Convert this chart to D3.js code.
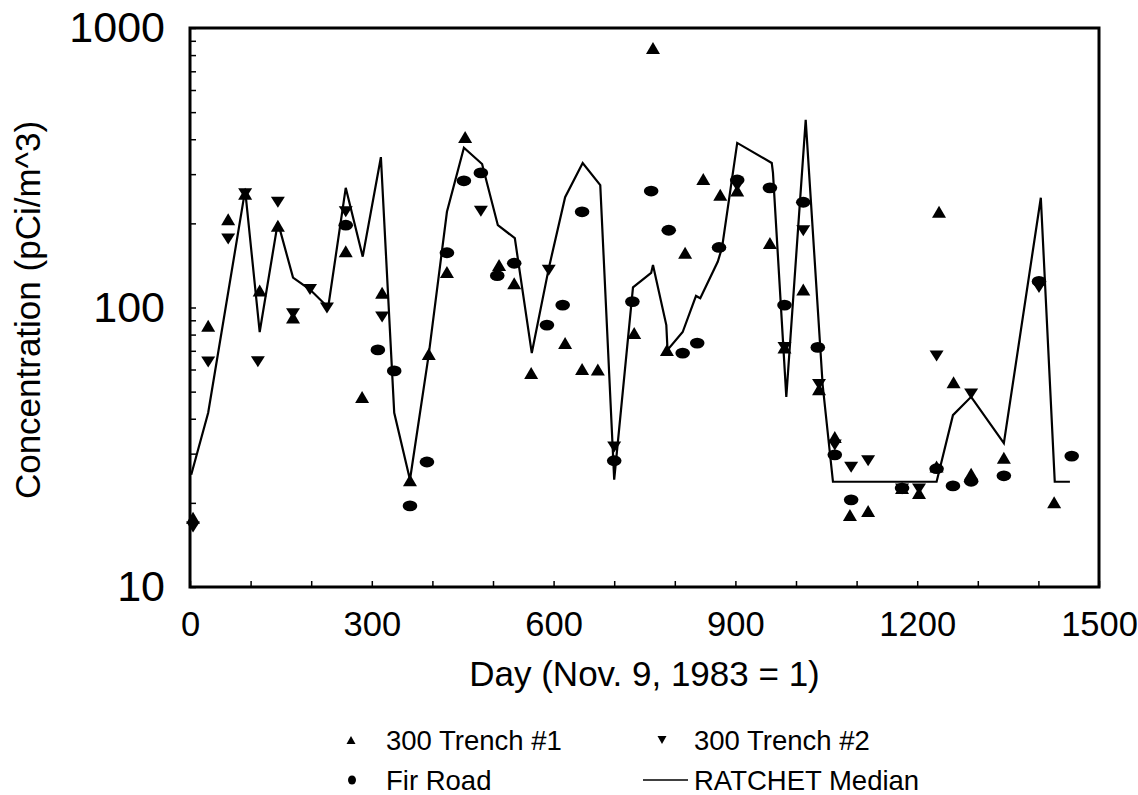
<!DOCTYPE html>
<html>
<head>
<meta charset="utf-8">
<script src="https://cdn.jsdelivr.net/npm/d3@7"></script>
<style>
  html, body { margin: 0; padding: 0; background: #fff; }
  svg { display: block; font-family: "Liberation Sans", Arial, sans-serif; }
</style>
</head>
<body>
<svg id="chart" width="1138" height="795"></svg>
<script>
// Air concentration (pCi/m^3) by day, three samplers plus the RATCHET median
const trench1Days = [5, 30, 63, 91, 115, 145, 170, 257, 284, 317, 363, 394, 424, 454, 510, 535, 563, 619, 647, 673, 733, 764, 787, 817, 847, 875, 903, 957, 981, 1012, 1038, 1064, 1089, 1119, 1175, 1203, 1232, 1236, 1260, 1289, 1343, 1426];
const trench1Values = [17.7, 86, 207, 255, 115, 196, 92, 159, 47.8, 113, 24.1, 68.2, 134, 407, 142, 122, 58.3, 74.6, 60.3, 60, 81, 848, 70.5, 157, 288, 253, 262, 170, 72, 116, 51, 34.4, 18.1, 18.7, 22.6, 21.7, 27, 220, 54, 25.4, 29, 20.1];

const trench2Days = [5, 30, 63, 91, 112, 145, 170, 198, 226, 257, 317, 480, 592, 700, 903, 981, 1012, 1038, 1064, 1091, 1119, 1175, 1203, 1232, 1289, 1401];
const trench2Values = [16.4, 63.8, 176, 255, 64, 238, 95, 116, 99.6, 220, 92.5, 221, 136, 31.7, 272, 72, 188, 53, 32.2, 26.8, 28.3, 22.4, 22.4, 67, 49, 118];

const firRoadDays = [257, 310, 337, 363, 391, 424, 452, 480, 507, 535, 589, 615, 647, 700, 730, 761, 790, 813, 837, 873, 903, 957, 981, 1012, 1036, 1064, 1091, 1175, 1232, 1259, 1289, 1343, 1401, 1455];
const firRoadValues = [197, 70.5, 59.3, 19.5, 28, 157, 284, 303, 130, 144, 86.5, 102, 220, 28.3, 105, 261, 189, 68.7, 74.6, 164, 286, 268, 102, 238, 72, 29.7, 20.5, 22.6, 26.5, 23, 23.9, 25, 124, 29.4];

const medianDays = [2, 30, 91, 115, 145, 170, 198, 228, 257, 285, 315, 337, 363, 394, 424, 452, 482, 508, 536, 564, 592, 619, 648, 677, 700, 731, 761, 764, 786, 788, 813, 835, 842, 871, 878, 903, 960, 962, 984, 1016, 1044, 1061, 1232, 1259, 1289, 1343, 1404, 1427, 1452];
const medianValues = [25.2, 42, 263, 81.7, 202, 128, 116, 100, 268, 152, 345, 42, 24.2, 68, 220, 373, 326, 197, 177, 68.7, 138, 248, 329, 274, 24.2, 118, 133, 142, 86.5, 70.5, 81.7, 110, 108, 146, 164, 388, 329, 303, 47.9, 469, 52.8, 23.8, 23.8, 41.2, 47.9, 32.7, 247, 23.8, 23.8];

const xMajorTicks = [0, 300, 600, 900, 1200, 1500];
const yMajorTicks = [10, 100, 1000];
const legendLabels = ["300 Trench #1", "300 Trench #2", "Fir Road", "RATCHET Median"];

const svg = d3.select("#chart");
const plotLeft = 190, plotRight = 1099, plotTop = 28, plotBottom = 587;

const x = d3.scaleLinear().domain([0, 1500]).range([plotLeft, plotRight]);
const y = d3.scaleLog().domain([10, 1000]).range([plotBottom, plotTop]);

// Axes with inward ticks
const xAxis = d3.axisBottom(x)
  .tickValues(d3.range(0, 1501, 100))
  .tickSize(-6)
  .tickPadding(25)
  .tickFormat(d => xMajorTicks.includes(d) ? String(d) : "");
const gx = svg.append("g").attr("transform", `translate(0,${plotBottom})`).call(xAxis);
gx.select(".domain").remove();
gx.selectAll("line").attr("stroke", "#000").attr("stroke-width", 1.5);
gx.selectAll("text").attr("font-size", 34.5).attr("fill", "#000").attr("font-family", "Liberation Sans, Arial, sans-serif");

const yMinor = [];
[10, 100].forEach(dec => { for (let k = 1; k <= 10; k++) yMinor.push(dec * k); });
const yTickVals = Array.from(new Set(yMinor));
const yAxis = d3.axisLeft(y)
  .tickValues(yTickVals)
  .tickSize(-6)
  .tickPadding(25)
  .tickFormat(d => yMajorTicks.includes(d) ? String(d) : "");
const gy = svg.append("g").attr("transform", `translate(${plotLeft},0)`).call(yAxis);
gy.select(".domain").remove();
gy.selectAll("line").attr("stroke", "#000").attr("stroke-width", 1.5);
gy.selectAll("text").attr("font-size", 43).attr("fill", "#000").attr("font-family", "Liberation Sans, Arial, sans-serif");

// Plot frame
svg.append("rect")
  .attr("x", plotLeft).attr("y", plotTop)
  .attr("width", plotRight - plotLeft).attr("height", plotBottom - plotTop)
  .attr("fill", "none").attr("stroke", "#000").attr("stroke-width", 3);

// Median line
const medianPts = medianDays.map((d, i) => [d, medianValues[i]]);
svg.append("path")
  .datum(medianPts)
  .attr("fill", "none")
  .attr("stroke", "#000")
  .attr("stroke-width", 2.2)
  .attr("stroke-linejoin", "miter")
  .attr("d", d3.line().x(d => x(d[0])).y(d => y(d[1])));

// Marker shapes
function triUp(w, h) { return `M0,${-h / 2}L${w / 2},${h / 2}L${-w / 2},${h / 2}Z`; }
function triDown(w, h) { return `M0,${h / 2}L${w / 2},${-h / 2}L${-w / 2},${-h / 2}Z`; }

const t1 = trench1Days.map((d, i) => [d, trench1Values[i]]);
const t2 = trench2Days.map((d, i) => [d, trench2Values[i]]);
const fr = firRoadDays.map((d, i) => [d, firRoadValues[i]]);

svg.append("g").selectAll("ellipse").data(fr).join("ellipse")
  .attr("cx", d => x(d[0])).attr("cy", d => y(d[1]))
  .attr("rx", 7.3).attr("ry", 5.4).attr("fill", "#000");

svg.append("g").selectAll("path").data(t1).join("path")
  .attr("transform", d => `translate(${x(d[0])},${y(d[1])})`)
  .attr("d", triUp(14, 12)).attr("fill", "#000");

svg.append("g").selectAll("path").data(t2).join("path")
  .attr("transform", d => `translate(${x(d[0])},${y(d[1])})`)
  .attr("d", triDown(14, 11)).attr("fill", "#000");

// Axis titles
svg.append("text")
  .attr("x", (plotLeft + plotRight) / 2).attr("y", 686)
  .attr("text-anchor", "middle").attr("font-size", 35)
  .text("Day (Nov. 9, 1983 = 1)");

svg.append("text")
  .attr("transform", "translate(40,310) rotate(-90)")
  .attr("text-anchor", "middle").attr("font-size", 35)
  .text("Concentration (pCi/m^3)");

// Legend
const lg = svg.append("g").attr("font-size", 27.5);
lg.append("path").attr("transform", "translate(351,740)").attr("d", triUp(9, 8)).attr("fill", "#000");
lg.append("text").attr("x", 386).attr("y", 750).text(legendLabels[0]);
lg.append("path").attr("transform", "translate(662,740)").attr("d", triDown(9, 8)).attr("fill", "#000");
lg.append("text").attr("x", 694).attr("y", 750).text(legendLabels[1]);
lg.append("ellipse").attr("cx", 352).attr("cy", 780).attr("rx", 4).attr("ry", 4.5).attr("fill", "#000");
lg.append("text").attr("x", 386).attr("y", 790).text(legendLabels[2]);
lg.append("line").attr("x1", 643).attr("x2", 688).attr("y1", 780).attr("y2", 780).attr("stroke", "#000").attr("stroke-width", 1.5);
lg.append("text").attr("x", 694).attr("y", 790).text(legendLabels[3]);
</script>
</body>
</html>
